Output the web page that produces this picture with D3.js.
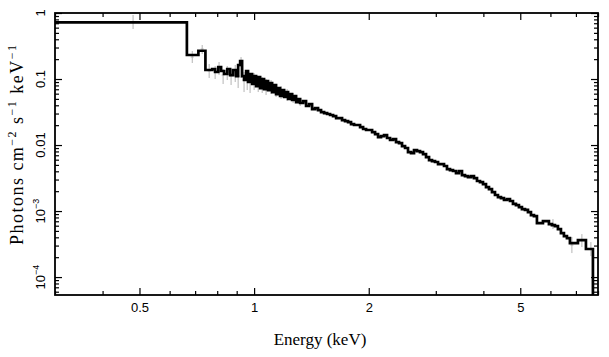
<!DOCTYPE html>
<html>
<head>
<meta charset="utf-8">
<script src="https://cdn.jsdelivr.net/npm/d3@7"></script>
<style>
  html, body { margin: 0; padding: 0; background: #fff; }
  svg { display: block; }
</style>
</head>
<body>
<svg id="chart" width="609" height="357"></svg>
<script>
// ---- Data ----
// Step-model bins: lower energy edge (keV) and flux (photons cm^-2 s^-1 keV^-1)
const binLowEdges = [
  0.30, 0.666, 0.714, 0.745,
  0.776, 0.790, 0.805, 0.819, 0.834, 0.850, 0.865, 0.881, 0.897, 0.908,
  0.919, 0.930, 0.941, 0.953, 0.964, 0.976, 0.988, 1.000, 1.012, 1.025,
  1.037, 1.050, 1.062, 1.075, 1.088, 1.102, 1.115, 1.129, 1.142, 1.156,
  1.170, 1.184, 1.199, 1.213, 1.228, 1.243, 1.258, 1.274, 1.289, 1.305,
  1.321, 1.345, 1.369, 1.394, 1.420, 1.446, 1.472, 1.499, 1.527, 1.555,
  1.583, 1.612, 1.642, 1.672, 1.702, 1.733, 1.765, 1.797, 1.830, 1.864,
  1.898, 1.933, 1.968, 2.004, 2.041, 2.078, 2.116, 2.154, 2.194, 2.234,
  2.275, 2.317, 2.359, 2.402, 2.446, 2.491, 2.536, 2.583, 2.630, 2.678,
  2.727, 2.777, 2.828, 2.880, 2.932, 2.986, 3.041, 3.096, 3.153, 3.210,
  3.269, 3.329, 3.390, 3.452, 3.515, 3.579, 3.645, 3.712, 3.779, 3.849,
  3.919, 3.991, 4.064, 4.138, 4.214, 4.291, 4.369, 4.449, 4.531, 4.614,
  4.698, 4.784, 4.871, 4.960, 5.051, 5.144, 5.238, 5.334, 5.431, 5.530,
  5.632, 5.735, 5.840, 5.946, 6.055, 6.166, 6.279, 6.394, 6.511, 6.630,
  6.751, 7.086, 7.437, 7.758
];
const binFlux = [
  0.723, 0.231, 0.268, 0.137,
  0.1417, 0.1277, 0.152, 0.1322, 0.1191, 0.1417, 0.1149, 0.1369, 0.111, 0.163,
  0.1874, 0.111, 0.0966, 0.1322, 0.0901, 0.1191, 0.0840, 0.111, 0.0783, 0.1072,
  0.0730, 0.100, 0.0705, 0.0933, 0.0681, 0.0870, 0.0635, 0.0811, 0.0592, 0.0730,
  0.0553, 0.0681, 0.0534, 0.0635, 0.0498, 0.0592, 0.0481, 0.0553, 0.0448, 0.0498,
  0.0433, 0.0464, 0.0390, 0.0418, 0.0351, 0.0364, 0.0339, 0.0316, 0.0305, 0.0295,
  0.0285, 0.0275, 0.0256, 0.0256, 0.0239, 0.0231, 0.0223, 0.0208, 0.0201, 0.0201,
  0.0187, 0.0175, 0.0169, 0.0169, 0.0157, 0.01468, 0.01322, 0.01369, 0.01417, 0.01277,
  0.01191, 0.01233, 0.01110, 0.01072, 0.00966, 0.00901, 0.00783, 0.00756, 0.00840, 0.00811,
  0.00783, 0.00730, 0.00658, 0.00592, 0.00572, 0.00553, 0.00515, 0.00515, 0.00481, 0.00433,
  0.00418, 0.00404, 0.00376, 0.00404, 0.00351, 0.00339, 0.00327, 0.00339, 0.00316, 0.00285,
  0.00275, 0.00256, 0.00231, 0.00215, 0.00194, 0.00175, 0.00163, 0.00157, 0.00147, 0.00152,
  0.00142, 0.00128, 0.00123, 0.00115, 0.00107, 0.00104, 0.000966, 0.000870, 0.000840, 0.000658,
  0.000658, 0.000706, 0.000706, 0.000635, 0.000614, 0.000592, 0.000534, 0.000464, 0.000418, 0.000390,
  0.000327, 0.000364, 0.000266, 0.00004
];
const binHighEnd = 8.2;

// Data points with error bars (gray)
const ptEnergy = [0.481, 0.688, 0.7305, 0.762, 0.790, 0.809, 0.829, 0.850, 0.870, 0.892,
  0.908, 0.924, 0.941, 0.959, 0.976, 1.000, 1.025, 1.050, 1.075, 1.108,
  1.142, 1.177, 1.221, 1.266, 1.321, 6.093, 6.832, 7.258, 7.664];
const ptFlux = [0.731, 0.2154, 0.2848, 0.1322, 0.1277, 0.1468, 0.1149, 0.1277, 0.111, 0.1277,
  0.111, 0.1574, 0.0966, 0.1035, 0.0901, 0.0966, 0.0870, 0.0840, 0.0783, 0.0783,
  0.0681, 0.0635, 0.0572, 0.0515, 0.0448, 0.000635, 0.000305, 0.000364, 0.000266];
const ptFluxHi = [0.933, 0.2656, 0.3275, 0.1688, 0.1574, 0.181, 0.1417, 0.1574, 0.1417, 0.163,
  0.1468, 0.2154, 0.1277, 0.1369, 0.1191, 0.1233, 0.111, 0.1072, 0.100, 0.0966,
  0.0840, 0.0783, 0.0705, 0.0614, 0.0515, 0.000756, 0.000404, 0.000448, 0.000339];
const ptFluxLo = [0.572, 0.1748, 0.2392, 0.1035, 0.100, 0.1149, 0.0840, 0.0966, 0.0811, 0.0901,
  0.0730, 0.1035, 0.0635, 0.0681, 0.0614, 0.0681, 0.0635, 0.0614, 0.0572, 0.0592,
  0.0534, 0.0498, 0.0464, 0.0433, 0.0390, 0.000534, 0.000231, 0.000285, 0.000208];

// Axis ticks
const xMajorTicks = [0.5, 1, 2, 5];
const xMajorLabels = ["0.5", "1", "2", "5"];
const xMinorTicks = [0.3, 0.4, 0.6, 0.7, 0.8, 0.9, 3, 4, 6, 7, 8];
const yMajorTicks = [1, 0.1, 0.01, 0.001, 0.0001];
const yMajorLabels = [["1", ""], ["0.1", ""], ["0.01", ""], ["10", "\u22123"], ["10", "\u22124"]];
const yMinorMult = [2, 3, 4, 5, 6, 7, 8, 9];

const xTitle = "Energy (keV)";
const yTitleParts = [["Photons cm", false], ["\u22122", true], [" s", false], ["\u22121", true], [" keV", false], ["\u22121", true]];

// ---- Layout ----
const L = 55, R = 598, T = 13, B = 295;
const svg = d3.select("#chart");

const x = d3.scaleLog().domain([0.3, 8]).range([L, R]);
const y = d3.scaleLog().domain([5.35e-5, 1]).range([B, T]);

svg.append("defs").append("clipPath").attr("id", "plotclip")
  .append("rect").attr("x", L).attr("y", T).attr("width", R - L).attr("height", B - T);

const plot = svg.append("g").attr("clip-path", "url(#plotclip)");

// error bars
const errG = plot.append("g").attr("stroke", "#b4b4b4").attr("stroke-width", 1).attr("fill", "none");
ptEnergy.forEach((e, i) => {
  errG.append("line")
    .attr("x1", x(e)).attr("x2", x(e))
    .attr("y1", y(ptFluxHi[i])).attr("y2", y(ptFluxLo[i]));
  errG.append("line")
    .attr("x1", x(e) - 1.5).attr("x2", x(e) + 1.5)
    .attr("y1", y(ptFlux[i])).attr("y2", y(ptFlux[i]));
});

// step model
const stepPts = binLowEdges.map((e, i) => [e, binFlux[i]]);
stepPts.push([binHighEnd, binFlux[binFlux.length - 1]]);
const line = d3.line()
  .x(d => x(d[0]))
  .y(d => y(Math.max(d[1], 1e-6)))
  .curve(d3.curveStepAfter);
plot.append("path")
  .attr("d", line(stepPts))
  .attr("fill", "none")
  .attr("stroke", "#000")
  .attr("stroke-width", 2.7)
  .attr("stroke-linejoin", "miter");

// ---- Axes ----
const yMinorTicks = [];
[1e-5, 1e-4, 1e-3, 1e-2, 1e-1].forEach(d => {
  yMinorMult.forEach(m => {
    const val = d * m;
    if (val >= 5.35e-5 && val <= 1) yMinorTicks.push(val);
  });
});

function styleAxis(g) {
  g.select(".domain").remove();
  g.selectAll(".tick line").attr("stroke", "#000").attr("stroke-width", 1.2);
}

// bottom
svg.append("g").attr("transform", `translate(0,${B})`)
  .call(d3.axisBottom(x).tickValues(xMajorTicks).tickSizeInner(-7).tickSizeOuter(0).tickPadding(8)
    .tickFormat((d, i) => xMajorLabels[i]))
  .call(styleAxis)
  .call(g => g.selectAll("text").attr("font-family", "'Liberation Sans', Arial, sans-serif")
    .attr("font-size", 13).attr("fill", "#000"));
svg.append("g").attr("transform", `translate(0,${B})`)
  .call(d3.axisBottom(x).tickValues(xMinorTicks).tickSizeInner(-4).tickSizeOuter(0).tickFormat(""))
  .call(styleAxis);
// top
svg.append("g").attr("transform", `translate(0,${T})`)
  .call(d3.axisTop(x).tickValues(xMajorTicks).tickSizeInner(-7).tickSizeOuter(0).tickFormat(""))
  .call(styleAxis);
svg.append("g").attr("transform", `translate(0,${T})`)
  .call(d3.axisTop(x).tickValues(xMinorTicks).tickSizeInner(-4).tickSizeOuter(0).tickFormat(""))
  .call(styleAxis);
// left
svg.append("g").attr("transform", `translate(${L},0)`)
  .call(d3.axisLeft(y).tickValues(yMajorTicks).tickSizeInner(-7).tickSizeOuter(0).tickFormat(""))
  .call(styleAxis);
svg.append("g").attr("transform", `translate(${L},0)`)
  .call(d3.axisLeft(y).tickValues(yMinorTicks).tickSizeInner(-4).tickSizeOuter(0).tickFormat(""))
  .call(styleAxis);
// right
svg.append("g").attr("transform", `translate(${R},0)`)
  .call(d3.axisRight(y).tickValues(yMajorTicks).tickSizeInner(-7).tickSizeOuter(0).tickFormat(""))
  .call(styleAxis);
svg.append("g").attr("transform", `translate(${R},0)`)
  .call(d3.axisRight(y).tickValues(yMinorTicks).tickSizeInner(-4).tickSizeOuter(0).tickFormat(""))
  .call(styleAxis);

// y tick labels (rotated)
yMajorTicks.forEach((v, i) => {
  const t = svg.append("text")
    .attr("transform", `translate(45,${y(v)}) rotate(-90)`)
    .attr("text-anchor", "middle")
    .attr("font-family", "'Liberation Sans', Arial, sans-serif")
    .attr("font-size", 13)
    .attr("fill", "#000");
  t.append("tspan").text(yMajorLabels[i][0]);
  if (yMajorLabels[i][1]) {
    t.append("tspan").attr("font-size", 9).attr("dy", -6).text(yMajorLabels[i][1]);
  }
});

// frame
svg.append("rect").attr("x", L).attr("y", T).attr("width", R - L).attr("height", B - T)
  .attr("fill", "none").attr("stroke", "#000").attr("stroke-width", 1.8);

// x title
svg.append("text")
  .attr("x", 320).attr("y", 345)
  .attr("text-anchor", "middle")
  .attr("font-family", "'Liberation Serif', 'Times New Roman', serif")
  .attr("font-size", 17)
  .attr("fill", "#000")
  .text(xTitle);

// y title
const yt = svg.append("text")
  .attr("transform", "translate(23,145) rotate(-90)")
  .attr("text-anchor", "middle")
  .attr("font-family", "'Liberation Serif', 'Times New Roman', serif")
  .attr("font-size", 18)
  .attr("textLength", 200)
  .attr("lengthAdjust", "spacing")
  .attr("fill", "#000");
let prevSup = false;
yTitleParts.forEach(([s, sup]) => {
  const ts = yt.append("tspan").text(s);
  if (sup) { ts.attr("font-size", 12).attr("dy", -7); prevSup = true; }
  else { ts.attr("dy", prevSup ? 7 : 0); prevSup = false; }
});
</script>
</body>
</html>
